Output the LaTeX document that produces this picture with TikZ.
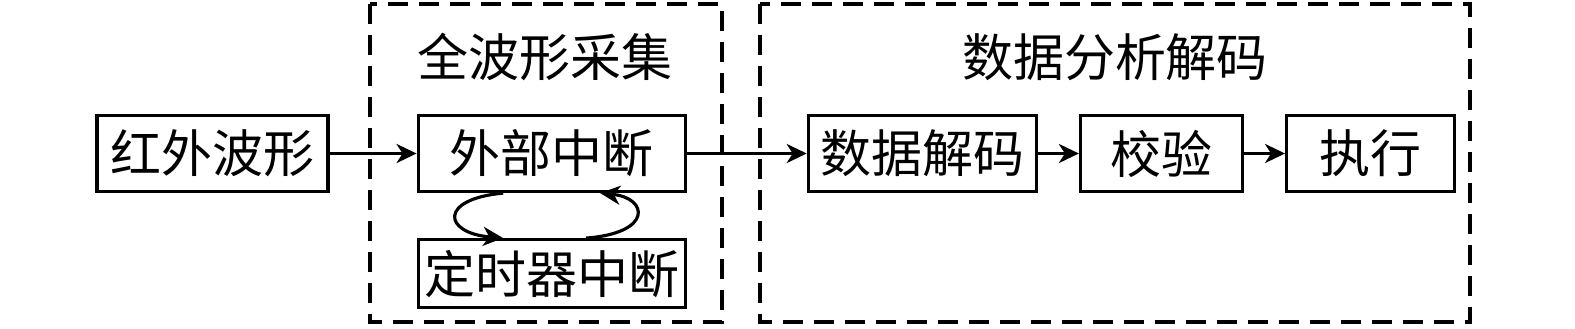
\documentclass[tikz,border=0pt]{standalone}
\usepackage{fontspec}
\setmainfont{Noto Sans CJK SC}
\usetikzlibrary{arrows.meta, positioning}

\begin{document}
\begin{tikzpicture}[
    node distance=0.41cm,
    box/.style={rectangle, draw, line width=0.9pt, minimum height=0.76cm, inner sep=0pt, align=center, font=\fontsize{14.5}{16}\selectfont},
    title/.style={font=\fontsize{14.5}{16}\selectfont},
    group/.style={draw, line width=0.9pt, dash pattern=on 0.2cm off 0.11cm},
    arrow/.style={-{Stealth[length=2mm, width=1.9mm, inset=0.6mm]}, line width=0.9pt}
]
\useasboundingbox (0,0) rectangle (15.75,-3.29);

\node[box, minimum width=2.31cm] (hw) at (2.125,-1.535) {红外波形};
\node[box, minimum width=2.67cm, right=0.87cm of hw] (ext) {外部中断};
\node[box, minimum width=2.67cm, minimum height=0.68cm, below=0.45cm of ext] (tmr) {定时器中断};
\node[box, minimum width=2.28cm, right=1.20cm of ext] (dec) {数据解码};
\node[box, minimum width=1.62cm, right=of dec] (chk) {校验};
\node[box, minimum width=1.68cm, right=of chk] (exe) {执行};

\node[title] (acq) at (5.45,-0.57) {全波形采集};
\node[title] (ana) at (11.15,-0.57) {数据分析解码};

% dashed groups
\draw[group] (3.70,-0.04) rectangle (7.22,-3.22);
\draw[group] (7.60,-0.04) rectangle (14.70,-3.22);

\draw[arrow] (hw) -- (ext);
\draw[arrow] (ext) -- (dec);
\draw[arrow] (dec) -- (chk);
\draw[arrow] (chk) -- (exe);

% interrupt loop
\draw[arrow] ([xshift=-0.485cm]ext.south) .. controls +(-0.65,-0.06) and +(-0.6,0.05) .. ([xshift=-0.485cm]tmr.north);
\draw[arrow] ([xshift=0.345cm]tmr.north) .. controls +(0.67,0.05) and +(0.48,-0.05) .. ([xshift=0.485cm]ext.south);
\end{tikzpicture}
\end{document}
